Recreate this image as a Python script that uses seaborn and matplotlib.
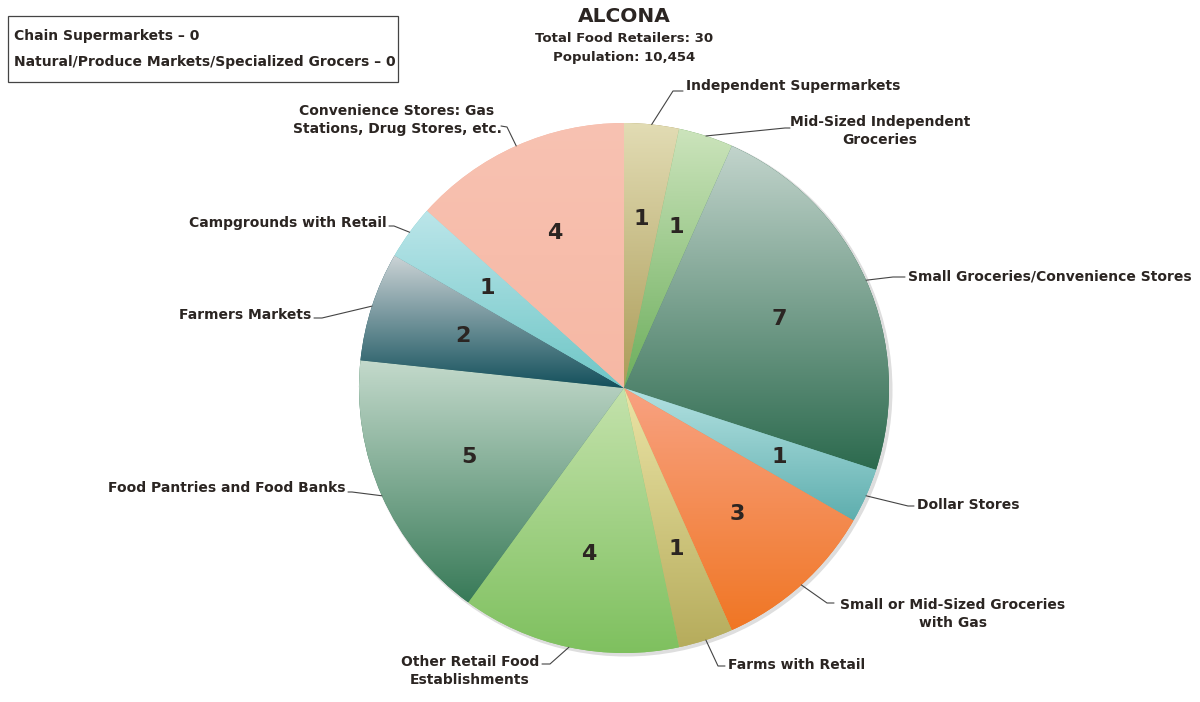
# Alcona County food retailer pie chart
import numpy as np
import matplotlib
matplotlib.use('Agg')

import matplotlib.pyplot as plt
import seaborn as sns
from matplotlib.colors import LinearSegmentedColormap
from matplotlib.patches import Rectangle, Circle

sns.set_style("white")
plt.rcParams['font.family'] = ['DejaVu Sans']

# data
categories = [
    "Independent Supermarkets",
    "Mid-Sized Independent\nGroceries",
    "Small Groceries/Convenience Stores",
    "Dollar Stores",
    "Small or Mid-Sized Groceries\nwith Gas",
    "Farms with Retail",
    "Other Retail Food\nEstablishments",
    "Food Pantries and Food Banks",
    "Farmers Markets",
    "Campgrounds with Retail",
    "Convenience Stores: Gas\nStations, Drug Stores, etc.",
]
counts = [1, 1, 7, 1, 3, 1, 4, 5, 2, 1, 4]
zero_categories = ["Chain Supermarkets", "Natural/Produce Markets/Specialized Grocers"]
zero_counts = [0, 0]
county = "ALCONA"
population = "10,454"

# gradient colours, top -> bottom
top_colors = ["#e2dcb4", "#cce4bc", "#c2d4cc", "#b4e2e2", "#f8a282", "#ebe4a6",
              "#c4e2ac", "#c4dacc", "#ccd4d6", "#bce6ea", "#f8c2b2"]
bot_colors = ["#ac9c58", "#6cae5c", "#2c6a4e", "#5eaeae", "#f07624", "#b6ac5c",
              "#7ec05e", "#387a58", "#14505c", "#6ec6c6", "#f6b8a4"]

H = 702
TXT = "#2b2522"
LINE = "#444444"

fig = plt.figure(figsize=(12, 7.02), dpi=100)
ax = fig.add_axes([0, 0, 1, 1])

cx, cy, R = 624, H - 388, 265

# soft shadow
ax.add_patch(Circle((cx + 2, cy - 2), R + 1.5, facecolor="#c8c8c8", edgecolor="none", alpha=0.6, zorder=0))

wedges, _, autotexts = ax.pie(
    counts, startangle=90, counterclock=False, center=(cx, cy), radius=R,
    autopct=lambda p: f"{round(p * sum(counts) / 100):d}", pctdistance=0.64,
    wedgeprops=dict(edgecolor="none", linewidth=0),
    textprops=dict(fontsize=16, fontweight="bold", color=TXT),
    frame=True,
)
ax.set_xlim(0, 1200)
ax.set_ylim(0, H)
ax.set_aspect('equal')
ax.axis('off')

grad = np.linspace(0, 1, 256).reshape(-1, 1)
for w, c0, c1 in zip(wedges, top_colors, bot_colors):
    w.set_facecolor(c1)
    v = w.get_path().vertices
    x0, x1 = v[:, 0].min(), v[:, 0].max()
    y0, y1 = v[:, 1].min(), v[:, 1].max()
    cmap = LinearSegmentedColormap.from_list("g", [c0, c1])
    im = ax.imshow(grad, cmap=cmap, extent=(x0, x1, y0, y1), origin='upper',
                   aspect='auto', zorder=w.get_zorder() + 0.1, interpolation='bilinear')
    im.set_clip_path(w)
for t in autotexts:
    t.set_zorder(5)

# label layout (pixel coords, y from top): text x, text y, ha, elbow, end
layout = [
    (686, 86, 'left', (673, 91), (683, 91)),
    (880, 131, 'center', (785, 128), (790, 128)),
    (908, 276, 'left', (893, 277), (905, 277)),
    (917, 505, 'left', (908, 506), (914, 506)),
    (953, 614, 'center', (827, 603), (834, 603)),
    (728, 665, 'left', (718, 666), (725, 666)),
    (470, 671, 'center', (550, 664), (542, 664)),
    (346, 488, 'right', (352, 492), (348, 492)),
    (311, 315, 'right', (322, 318), (314, 318)),
    (387, 223, 'right', (394, 226), (389, 226)),
    (397, 120, 'center', (507, 127), (501, 126)),
]

start = 90.0
total = sum(counts)
for name, n, (tx, ty, ha, elbow, end) in zip(categories, counts, layout):
    sweep = 360.0 * n / total
    mid = np.deg2rad(start - sweep / 2)
    start -= sweep
    ex, ey = cx + R * np.cos(mid), cy + R * np.sin(mid)
    ax.plot([ex, elbow[0], end[0]], [ey, H - elbow[1], H - end[1]],
            color=LINE, lw=0.8, zorder=6)
    ax.text(tx, H - ty, name, ha=ha, va='center', fontsize=10, fontweight='bold',
            color=TXT, linespacing=1.35, zorder=7)

# title
ax.text(624, H - 17, county, ha='center', va='center', fontsize=14.5, fontweight='bold', color=TXT)
ax.text(624, H - 38, f"Total Food Retailers: {total}", ha='center', va='center',
        fontsize=9.5, fontweight='bold', color=TXT)
ax.text(624, H - 58, f"Population: {population}", ha='center', va='center',
        fontsize=9.5, fontweight='bold', color=TXT)

# zero-count box
ax.add_patch(Rectangle((8, H - 82), 390, 66, facecolor='white', edgecolor="#444444", lw=0.9))
for i, (name, n) in enumerate(zip(zero_categories, zero_counts)):
    ax.text(14, H - 36 - 26 * i, f"{name} \u2013 {n}", ha='left', va='center',
            fontsize=10, fontweight='bold', color=TXT)

fig.savefig("out.png", dpi=100)
